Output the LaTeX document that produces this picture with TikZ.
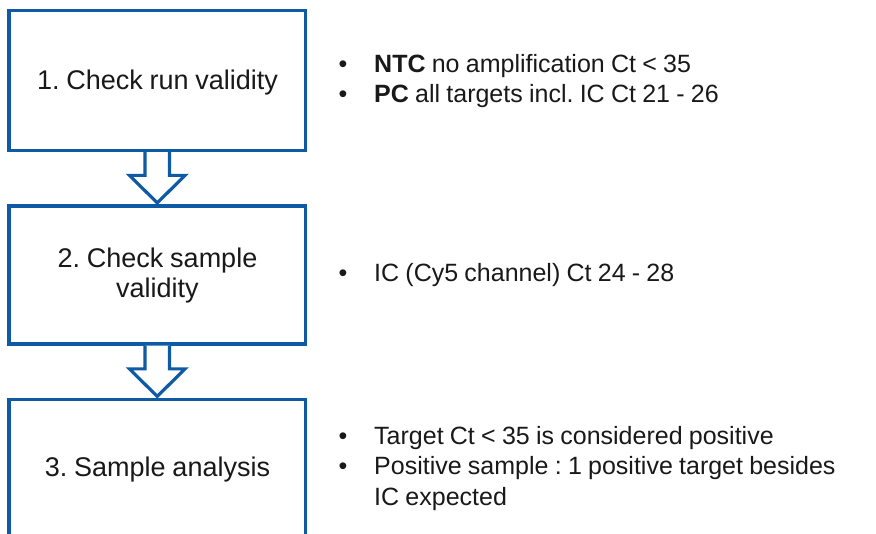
\documentclass[tikz,border=0pt]{standalone}
\usepackage{fontspec}
\setmainfont{Liberation Sans}
\usetikzlibrary{calc}
\definecolor{boxblue}{RGB}{14,90,165}
\definecolor{txt}{RGB}{25,25,25}
\frenchspacing
\newcommand{\tightspace}{\spaceskip=0.25em plus 0.05em minus 0.02em\relax}
\newcommand{\hollowarrow}[2]{%
  \draw[hollow] let \p1=(#1.south), \p2=(#2.north) in
    (\x1-12.25,\y1) -- (\x1-12.25,\y2+29) -- (\x1-27.75,\y2+29) --
    (\x1,\y2+1.5) -- (\x1+27.75,\y2+29) -- (\x1+12.25,\y2+29) -- (\x1+12.25,\y1);}
\begin{document}
\begin{tikzpicture}[x=1pt,y=-1pt,
  stepbox/.style={draw=boxblue, line width=3.2pt, fill=white, inner sep=0pt},
  boxlabel/.style={inner sep=0pt, anchor=base, text=txt, font=\frenchspacing\fontsize{27}{30}\selectfont\tightspace},
  bul/.style={inner sep=0pt, anchor=base, text=txt, font=\fontsize{25}{30}\selectfont},
  bultext/.style={inner sep=0pt, anchor=base west, text=txt, font=\frenchspacing\fontsize{25}{30}\selectfont\tightspace},
  hollow/.style={draw=boxblue, line width=3.2pt, fill=white, line join=miter}]
\useasboundingbox (0,0) rectangle (876,534);
\fill[white] (0,0) rectangle (876,534);
% boxes
\node[stepbox, minimum width=296.5pt, minimum height=139.8pt] (b1) at (157.25,80.6) {};
\node[stepbox, minimum width=296.5pt, minimum height=138pt] (b2) at (157.25,275) {};
\begin{scope}
  \clip (0,0) rectangle (876,534);
  \node[stepbox, minimum width=296.5pt, minimum height=160pt] (b3) at (157.25,479.5) {};
\end{scope}
% arrows
\hollowarrow{b1}{b2}
\hollowarrow{b2}{b3}
% box labels
\node[boxlabel] (l1) at (157.5,90) {1. Check run validity};
\node[boxlabel] (l2a) at (157.5,268) {2. Check sample};
\node[boxlabel] (l2b) at (157.5,298) {validity};
\node[boxlabel] (l3) at (157.5,477) {3. Sample analysis};
% bullets
\node[bul] (d1) at (343,73) {•};
\node[bultext] (t1) at (374,73) {\textbf{NTC} no amplification Ct < 35};
\node[bul] (d2) at (343,103) {•};
\node[bultext] (t2) at (374,103) {\textbf{PC} all targets incl. IC Ct 21 - 26};
\node[bul] (d3) at (343,282) {•};
\node[bultext] (t3) at (374,282) {IC (Cy5 channel) Ct 24 - 28};
\node[bul] (d4) at (343,445) {•};
\node[bultext] (t4) at (374,445) {Target Ct < 35 is considered positive};
\node[bul] (d5) at (343,475) {•};
\node[bultext] (t5) at (374,475) {Positive sample : 1 positive target besides};
\node[bultext] (t6) at (374,505) {IC expected};
\end{tikzpicture}
\end{document}
